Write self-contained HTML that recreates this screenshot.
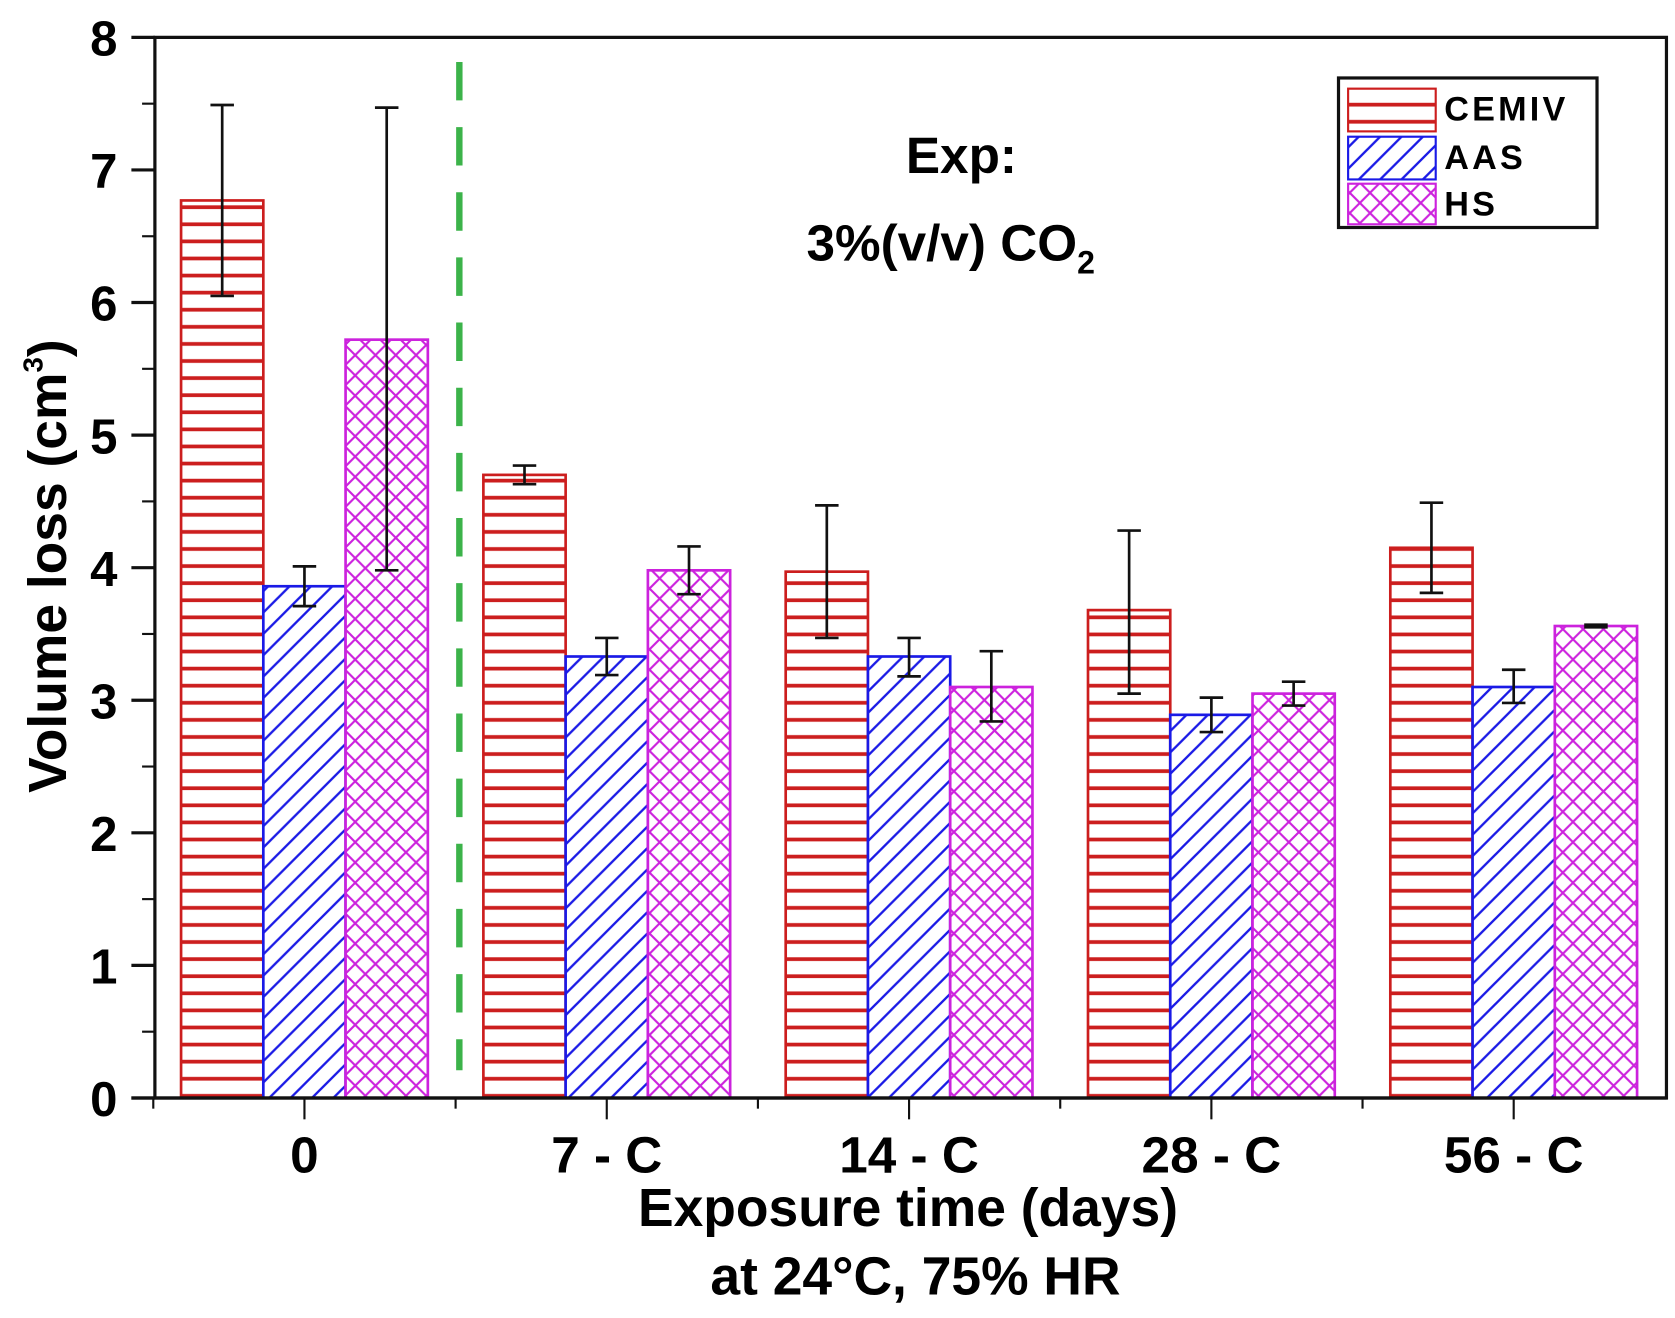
<!DOCTYPE html>
<html><head><meta charset="utf-8"><style>
html,body{margin:0;padding:0;background:#fff;}
svg{display:block;}
text{font-family:"Liberation Sans",Arial,sans-serif;font-weight:bold;}
</style></head><body>
<svg id="chart" width="1675" height="1318" viewBox="0 0 1568 1234" preserveAspectRatio="none" xmlns="http://www.w3.org/2000/svg">
<defs>
<pattern id="pH" patternUnits="userSpaceOnUse" width="12" height="16"><rect width="12" height="16" fill="#fff"/><line x1="0" y1="2" x2="12" y2="2" stroke="#cc1e1e" stroke-width="3.5"/></pattern>
<pattern id="pD" patternUnits="userSpaceOnUse" width="20" height="20"><rect width="20" height="20" fill="#fff"/><path d="M-2,22 L22,-2 M-2,2 L2,-2 M18,22 L22,18" stroke="#1a1ae6" stroke-width="2.2"/></pattern>
<pattern id="pX" patternUnits="userSpaceOnUse" width="19" height="19"><rect width="19" height="19" fill="#fff"/><path d="M0,0 L19,19 M19,0 L0,19" stroke="#cc22dd" stroke-width="2"/></pattern>
</defs>
<g id="plot"></g>
</svg>
<script>
const categories = ["0", "7 - C", "14 - C", "28 - C", "56 - C"];
const seriesNames = ["CEMIV", "AAS", "HS"];
const cemiv = [6.77, 4.70, 3.97, 3.68, 4.15];
const cemivLo = [6.05, 4.63, 3.47, 3.05, 3.81];
const cemivHi = [7.49, 4.77, 4.47, 4.28, 4.49];
const aas = [3.86, 3.33, 3.33, 2.89, 3.10];
const aasLo = [3.71, 3.19, 3.18, 2.76, 2.98];
const aasHi = [4.01, 3.47, 3.47, 3.02, 3.23];
const hs = [5.72, 3.98, 3.10, 3.05, 3.56];
const hsLo = [3.98, 3.80, 2.84, 2.96, 3.55];
const hsHi = [7.47, 4.16, 3.37, 3.14, 3.57];
const yTicks = [0, 1, 2, 3, 4, 5, 6, 7, 8];

const NS = "http://www.w3.org/2000/svg";
const g = document.getElementById('plot');
const X0 = 145, X1 = 1560, Y0 = 1028, Ytop = 35;
const yScale = v => Y0 - (v / 8) * (Y0 - Ytop);
const groupW = 283;
const xCenter = i => 285 + i * groupW;
const barW = 77;
function el(tag, attrs, parent) {
  const e = document.createElementNS(NS, tag);
  for (const k in attrs) e.setAttribute(k, attrs[k]);
  (parent || g).appendChild(e);
  return e;
}
const series = [
  {v: cemiv, lo: cemivLo, hi: cemivHi, fill: 'url(#pH)', stroke: '#cc1e1e'},
  {v: aas, lo: aasLo, hi: aasHi, fill: 'url(#pD)', stroke: '#1a1ae6'},
  {v: hs, lo: hsLo, hi: hsHi, fill: 'url(#pX)', stroke: '#cc22dd'}
];
series.forEach((s, si) => {
  categories.forEach((c, i) => {
    const x = xCenter(i) + (si - 1) * barW - barW / 2;
    const y = yScale(s.v[i]);
    const r = el('rect', {x: x, y: y, width: barW, height: Y0 - y, fill: s.fill, stroke: s.stroke, 'stroke-width': 2.5});
    
    
  });
});
series.forEach((s, si) => {
  categories.forEach((c, i) => {
    const cx = xCenter(i) + (si - 1) * barW;
    const eg = el('g', {stroke: '#111', 'stroke-width': 2.5});
    
    
    const yl = yScale(s.lo[i]), yh = yScale(s.hi[i]);
    el('line', {x1: cx, x2: cx, y1: yl, y2: yh}, eg);
    el('line', {x1: cx - 11, x2: cx + 11, y1: yl, y2: yl}, eg);
    el('line', {x1: cx - 11, x2: cx + 11, y1: yh, y2: yh}, eg);
  });
});
const dl = el('line', {x1: 430, x2: 430, y1: 58, y2: 1002, stroke: '#3cb34a', 'stroke-width': 6, 'stroke-dasharray': '36 25'});


const ax = el('path', {d: `M${X0},${Ytop} H${X1} V${Y0} H${X0} Z`, fill: 'none', stroke: '#111', 'stroke-width': 3});


yTicks.forEach(t => {
  const y = yScale(t);
  el('line', {x1: X0 - 22, x2: X0, y1: y, y2: y, stroke: '#111', 'stroke-width': 3});
  if (t < 8) { const ym = yScale(t + 0.5); el('line', {x1: X0 - 12, x2: X0, y1: ym, y2: ym, stroke: '#111', 'stroke-width': 2}); }
  const tx = el('text', {x: 110, y: y + 17, 'text-anchor': 'end', 'font-size': 46});
  tx.textContent = t;
  
  
});
el('line', {x1: X0 - 22, x2: X1, y1: Y0, y2: Y0, stroke: '#111', 'stroke-width': 3});
categories.forEach((c, i) => {
  const x = xCenter(i);
  el('line', {x1: x, x2: x, y1: Y0, y2: Y0 + 20, stroke: '#111', 'stroke-width': 2});
  el('line', {x1: x - groupW / 2, x2: x - groupW / 2, y1: Y0, y2: Y0 + 10, stroke: '#111', 'stroke-width': 2});
  const tx = el('text', {x: x, y: 1098, 'text-anchor': 'middle', 'font-size': 48});
  tx.textContent = c;
  
  
});
</script>
<svg style="position:absolute;left:0;top:0" width="1675" height="1318" viewBox="0 0 1568 1234" preserveAspectRatio="none" xmlns="http://www.w3.org/2000/svg">
<text x="850" y="1148" text-anchor="middle" font-size="50">Exposure time (days)</text>
<text x="857" y="1212" text-anchor="middle" font-size="50">at 24°C, 75% HR</text>
<text transform="translate(62,530) rotate(-90)" text-anchor="middle" font-size="50">Volume loss (cm<tspan font-size="26" dy="-22">3</tspan><tspan dy="22">)</tspan></text>
<text x="900" y="162" text-anchor="middle" font-size="48">Exp:</text>
<text x="890" y="244" text-anchor="middle" font-size="48">3%(v/v) CO<tspan font-size="30" dy="12">2</tspan></text>
<g>
<rect x="1253" y="73" width="242" height="140" fill="#fff" stroke="#111" stroke-width="3"/>
<rect x="1262" y="83" width="82" height="40" fill="url(#pH)" stroke="#cc1e1e" stroke-width="2"/>
<rect x="1262" y="128" width="82" height="40" fill="url(#pD)" stroke="#1a1ae6" stroke-width="2"/>
<rect x="1262" y="172" width="82" height="38" fill="url(#pX)" stroke="#cc22dd" stroke-width="2"/>
<text x="1352" y="113" font-size="32" letter-spacing="3">CEMIV</text>
<text x="1352" y="158" font-size="32" letter-spacing="3">AAS</text>
<text x="1352" y="202" font-size="32" letter-spacing="3">HS</text>
</g>
</svg>
</body></html>
